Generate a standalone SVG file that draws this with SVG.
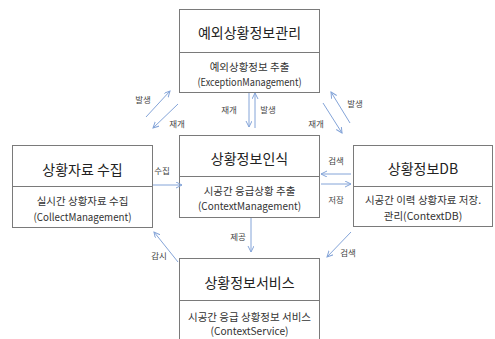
<svg xmlns="http://www.w3.org/2000/svg" width="495" height="339" viewBox="0 0 495 339">
<style>
.box{fill:#fff;stroke:#7a7a7a;stroke-width:1}
.div{stroke:#7a7a7a;stroke-width:1}
text{font-family:"Malgun Gothic","Noto Sans CJK KR","Noto Sans",sans-serif;fill:#222;text-anchor:middle;dominant-baseline:central}
.t{font-size:14px}
.s{font-size:10.5px;fill:#333}
.l{font-size:8.5px;fill:#444}
.a{stroke:#84a4d8;stroke-width:1;fill:none;marker-end:url(#ah)}
</style>
<defs>
<marker id="ah" markerWidth="8" markerHeight="8" refX="6" refY="3" orient="auto" markerUnits="userSpaceOnUse">
<path d="M0,0 L6,3 L0,6" fill="none" stroke="#84a4d8" stroke-width="1"/>
</marker>
</defs>
<rect width="495" height="339" fill="#fff"/>
<g id="exception">
<rect class="box" x="179.5" y="9.5" width="140" height="83"/>
<line class="div" x1="179.5" y1="52.5" x2="319.5" y2="52.5"/>
<text class="t" x="249.5" y="32">예외상황정보관리</text>
<text class="s" x="249.5" y="66">예외상황정보 추출</text>
<text class="s" x="249.5" y="81" textLength="104" lengthAdjust="spacingAndGlyphs">(ExceptionManagement)</text>
</g>
<g id="collect">
<rect class="box" x="12.5" y="145.5" width="140" height="82"/>
<line class="div" x1="12.5" y1="186.5" x2="152.5" y2="186.5"/>
<text class="t" x="82.5" y="169">상황자료 수집</text>
<text class="s" x="82.5" y="200">실시간 상황자료 수집</text>
<text class="s" x="82.5" y="216" textLength="98" lengthAdjust="spacingAndGlyphs">(CollectManagement)</text>
</g>
<g id="context">
<rect class="box" x="179.5" y="135.5" width="140" height="82"/>
<line class="div" x1="179.5" y1="176.5" x2="319.5" y2="176.5"/>
<text class="t" x="249.5" y="158">상황정보인식</text>
<text class="s" x="249.5" y="190.5">시공간 응급상황 추출</text>
<text class="s" x="249.5" y="205" textLength="103" lengthAdjust="spacingAndGlyphs">(ContextManagement)</text>
</g>
<g id="db">
<rect class="box" x="353.5" y="145.5" width="139" height="81"/>
<line class="div" x1="353.5" y1="186.5" x2="492.5" y2="186.5"/>
<text class="t" x="423" y="168">상황정보DB</text>
<text class="s" x="423" y="199">시공간 이력 상황자료 저장.</text>
<text class="s" x="423" y="215">관리(ContextDB)</text>
</g>
<g id="service">
<rect class="box" x="179.5" y="258.5" width="140" height="90"/>
<line class="div" x1="179.5" y1="300.5" x2="319.5" y2="300.5"/>
<text class="t" x="249.5" y="282">상황정보서비스</text>
<text class="s" x="249.5" y="316">시공간 응급 상황정보 서비스</text>
<text class="s" x="249.5" y="330" textLength="78" lengthAdjust="spacingAndGlyphs">(ContextService)</text>
</g>
<g id="connectors">
<line class="a" x1="146" y1="117" x2="170" y2="91"/>
<line class="a" x1="178" y1="104" x2="153" y2="128"/>
<line class="a" x1="249" y1="93" x2="249" y2="127"/>
<line class="a" x1="255" y1="128" x2="255" y2="93"/>
<line class="a" x1="350" y1="123" x2="331" y2="92"/>
<line class="a" x1="323" y1="103" x2="342" y2="133"/>
<line class="a" x1="153" y1="185" x2="182" y2="185"/>
<line class="a" x1="351" y1="174" x2="321" y2="174"/>
<line class="a" x1="321" y1="184" x2="351" y2="184"/>
<line class="a" x1="251" y1="218" x2="251" y2="252"/>
<line class="a" x1="178" y1="262" x2="154" y2="232"/>
<line class="a" x1="351" y1="232" x2="327" y2="257"/>
<text class="l" x="143" y="99">발생</text>
<text class="l" x="177" y="123">재개</text>
<text class="l" x="229" y="109">재개</text>
<text class="l" x="268" y="109">발생</text>
<text class="l" x="355" y="103">발생</text>
<text class="l" x="316" y="123">재개</text>
<text class="l" x="162" y="170">수집</text>
<text class="l" x="336" y="160">검색</text>
<text class="l" x="336" y="199">저장</text>
<text class="l" x="238" y="236">제공</text>
<text class="l" x="159" y="255">감시</text>
<text class="l" x="348" y="252">검색</text>
</g>
</svg>
